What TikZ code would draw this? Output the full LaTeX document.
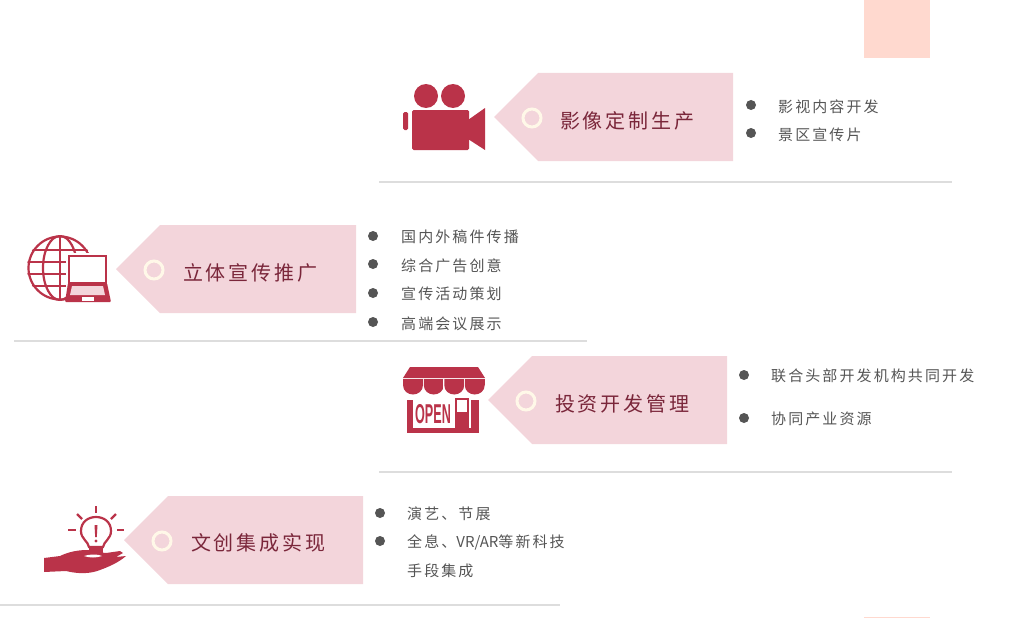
\documentclass[tikz,border=0pt]{standalone}
\usepackage{fontspec}
\setmainfont[LetterSpace=14]{Noto Sans CJK SC}
\newfontfamily\plainfont{Noto Sans CJK SC}
\newfontfamily\openfont{Liberation Sans}
\usetikzlibrary{positioning}
\definecolor{mainred}{RGB}{186,51,73}
\definecolor{tagpink}{RGB}{243,213,219}
\definecolor{ringcream}{RGB}{255,248,232}
\definecolor{headdark}{RGB}{122,38,58}
\definecolor{listgray}{RGB}{85,85,85}
\definecolor{rulegray}{RGB}{221,221,221}
\definecolor{cornerpink}{RGB}{255,217,207}
\tikzset{
  tagbody/.style={fill=tagpink, draw=none},
  tagring/.style={circle, draw=ringcream, line width=3pt, fill=tagpink, minimum size=18pt, inner sep=0pt},
  taghead/.style={anchor=west, inner sep=0pt, yshift=-1pt, text=headdark, font=\fontsize{20}{22}\selectfont},
  listdot/.style={circle, fill=listgray, draw=none, minimum size=10pt, inner sep=0pt},
  listtxt/.style={anchor=west, inner sep=0pt, yshift=-1pt, text=listgray, font=\fontsize{15}{18}\selectfont},
  rowrule/.style={draw=rulegray, line width=1.2pt},
  icon/.style={fill=mainred, draw=none},
  iconline/.style={draw=mainred, line width=2.2pt},
}
% tip x, tip y, right x, half height
\newcommand{\tagshape}[5]{
  \fill[tagbody] (#2,#3) -- (#2+44,#3-#5) -- (#4,#3-#5) -- (#4,#3+#5) -- (#2+44,#3+#5) -- cycle;
  \node[tagring] (#1ring) at (#2+38,#3+1) {};
}
\newcommand{\listrow}[6]{
  \node[listdot] (#1d) at (#2,#3) {};
  \node[listtxt] (#1t) at (#4,#5) {#6};
}
\begin{document}
\begin{tikzpicture}[x=1pt,y=-1pt]
  \useasboundingbox (0,0) rectangle (1026,618);
  \fill[cornerpink] (864,0) rectangle (930,58);
  \fill[cornerpink] (864,617) rectangle (930,618);

  % row one
  \tagshape{rowa}{494}{117}{733}{44}
  \node[taghead] (heada) at (560,120) {影像定制生产};
  \listrow{aa}{751}{105}{778}{106}{影视内容开发}
  \listrow{ab}{751}{133}{778}{134}{景区宣传片}
  \coordinate (rulea1) at (379,182);
  \coordinate (rulea2) at (952,182);
  \draw[rowrule] (rulea1) -- (rulea2);

  % camera
  \fill[icon] (426,96) circle (12);
  \fill[icon] (453,96) circle (12);
  \fill[icon, rounded corners=1.5pt] (412,110) rectangle (469,150);
  \fill[icon, rounded corners=1.5pt] (403,112) rectangle (408,130);
  \fill[icon] (468,120) -- (485,108) -- (485,150) -- (468,139) -- cycle;

  % row two
  \tagshape{rowb}{116}{269}{356}{44}
  \node[taghead] (headb) at (183,272) {立体宣传推广};
  \listrow{ba}{373}{236}{401}{236}{国内外稿件传播}
  \listrow{bb}{373}{264}{401}{265}{综合广告创意}
  \listrow{bc}{373}{293}{401}{293}{宣传活动策划}
  \listrow{bd}{373}{322}{401}{323}{高端会议展示}
  \coordinate (ruleb1) at (14,341);
  \coordinate (ruleb2) at (587,341);
  \draw[rowrule] (ruleb1) -- (ruleb2);

  % globe and laptop
  \begin{scope}
    \clip (60,268) circle (33);
    \draw[iconline] (60,268) circle (31.5);
    \draw[iconline] (60,268) ellipse (17 and 32);
    \draw[iconline] (60,236) -- (60,300);
    \foreach \yr in {-18,-6,6,18}
      \draw[iconline] (26,268+\yr) -- (94,268+\yr);
  \end{scope}
  \fill[white] (66,253) rectangle (113,304);
  \fill[icon] (68,255) rectangle (107,284);
  \fill[white] (70,257) rectangle (105,282);
  \fill[icon, rounded corners=1pt] (68,283) -- (107,283) -- (111,302) -- (65,302) -- cycle;
  \fill[tagpink] (72,286) -- (103,286) -- (105,295) -- (70,295) -- cycle;
  \fill[white] (82,297) rectangle (94,301);

  % row three
  \tagshape{rowc}{488}{400}{727}{44}
  \node[taghead] (headc) at (555,403) {投资开发管理};
  \listrow{ca}{744}{375}{771}{375}{联合头部开发机构共同开发}
  \listrow{cb}{744}{418}{771}{418}{协同产业资源}
  \coordinate (rulec1) at (379,472);
  \coordinate (rulec2) at (952,472);
  \draw[rowrule] (rulec1) -- (rulec2);

  % shop
  \fill[icon] (410,367) -- (478,367) -- (485,378) -- (403,378) -- cycle;
  \fill[icon] (407,392) rectangle (479,433);
  \foreach \sx in {403,423.75,444.25,464.75} {
    \fill[white] (\sx-0.8,379) rectangle (\sx+21,400);
    \fill[icon] (\sx,379) -- (\sx+20,379) -- (\sx+20,385) .. controls (\sx+20,391) and (\sx+15,394.5) .. (\sx+10,394.5) .. controls (\sx+5,394.5) and (\sx,391) .. (\sx,385) -- cycle;
  }
  \fill[white] (413,399) rectangle (453,428);
  \fill[white] (453,396) rectangle (471,428);
  \fill[icon] (455,398) rectangle (469,428);
  \fill[white] (457,400) rectangle (467,412);
  \node[inner sep=0pt, text=mainred, xscale=.6, yscale=1.3, font=\openfont\bfseries\fontsize{21}{21}\selectfont] (opensign) at (433,414) {OPEN};

  % row four
  \tagshape{rowd}{124}{540}{363}{44}
  \node[taghead] (headd) at (191,542) {文创集成实现};
  \listrow{da}{380}{513}{407}{513}{演艺、节展}
  \listrow{db}{380}{541}{407}{541}{全息、{\plainfont VR/AR}等新科技}
  \node[listtxt] (dct) at (407,570) {手段集成};
  \coordinate (ruled1) at (0,605);
  \coordinate (ruled2) at (560,605);
  \draw[rowrule] (ruled1) -- (ruled2);

  % bulb on hand
  \draw[iconline] (89,547) .. controls (88,541) and (81,539) .. (81,531) .. controls (81,522) and (88,517) .. (96,517) .. controls (104,517) and (111,522) .. (111,531) .. controls (111,539) and (104,541) .. (103,547) -- cycle;
  \fill[icon] (89,547) rectangle (103,553);
  \foreach \ax/\ay/\bx/\by in {96/506/96/513, 77/514/82/519, 116/514/111/519, 68/530/76/530, 117/530/124/530}
    \draw[iconline] (\ax,\ay) -- (\bx,\by);
  \fill[icon] (94.5,525) -- (97.5,525) -- (96.8,537) -- (95.2,537) -- cycle;
  \fill[icon] (96,541) circle (1.6);
  \fill[icon] (44,558) -- (60,556) .. controls (68,552) and (78,550) .. (87,550) .. controls (95,550) and (100,553) .. (106,553) -- (120,551) -- (123,553) -- (116,557) -- (126,556) .. controls (118,563) and (108,567) .. (100,570) .. controls (90,574) and (78,574) .. (66,571) -- (44,572) -- cycle;
  \fill[white] (84,556) .. controls (90,554) and (98,554) .. (102,556) .. controls (96,558) and (90,558) .. (84,556) -- cycle;
\end{tikzpicture}
\end{document}
